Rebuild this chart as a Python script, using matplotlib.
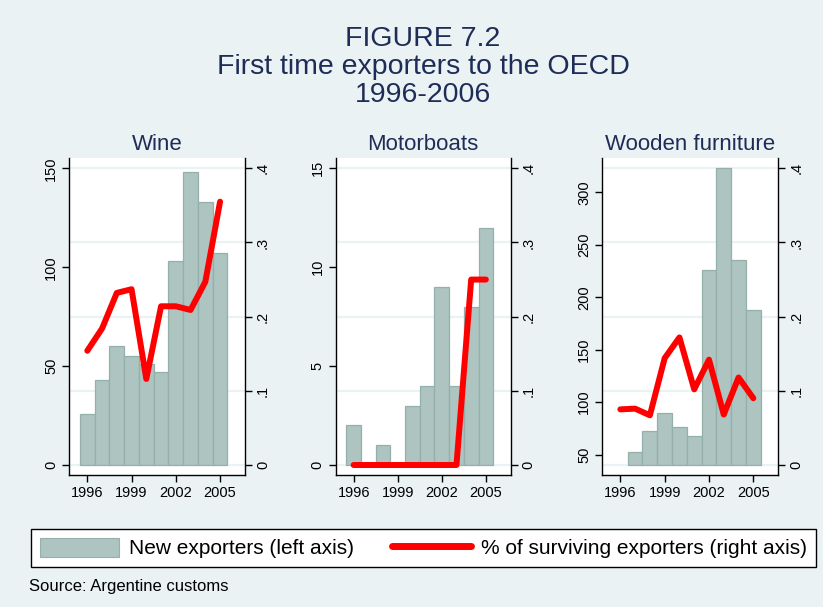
import numpy as np
import matplotlib
matplotlib.use("Agg")
import matplotlib.pyplot as plt
from matplotlib.patches import Patch
from matplotlib.lines import Line2D

plt.rcParams['font.family'] = ['Liberation Sans', 'DejaVu Sans']

# data
years = [1996, 1997, 1998, 1999, 2000, 2001, 2002, 2003, 2004, 2005]
panels = ['Wine', 'Motorboats', 'Wooden furniture']

wine_new = [26, 43, 60, 55, 51, 47, 103, 148, 133, 107]
wine_surv = [0.154, 0.184, 0.232, 0.237, 0.116, 0.214, 0.214, 0.209, 0.247, 0.355]

boats_new = [2, 0, 1, 0, 3, 4, 9, 4, 8, 12]
boats_surv = [0, 0, 0, 0, 0, 0, 0, 0, 0.25, 0.25]

furn_new = [40, 52.5, 72.5, 90, 76.5, 68, 226, 323, 236, 188]
furn_surv = [0.075, 0.076, 0.067, 0.144, 0.172, 0.102, 0.142, 0.068, 0.118, 0.090]

left_ticks = [[0, 50, 100, 150], [0, 5, 10, 15], [50, 100, 150, 200, 250, 300]]
left_range = [(0, 150), (0, 15), (40, 323)]
right_ticks = [0, 0.1, 0.2, 0.3, 0.4]
right_labels = ['0', '.1', '.2', '.3', '.4']
x_ticks = [1996, 1999, 2002, 2005]

new_vals = [wine_new, boats_new, furn_new]
surv_vals = [wine_surv, boats_surv, furn_surv]

BG = '#EAF2F3'
BAR = '#ADC4C0'
BAR_EDGE = '#95B0AA'
NAVY = '#1E2D58'
RED = '#FF0000'

W, H = 823, 607
fig = plt.figure(figsize=(W / 100, H / 100), dpi=100, facecolor=BG)

# axes positions in pixels (left, right), shared top/bottom
ax_lr = [(69.3, 245.0), (335.7, 510.7), (602.3, 778.3)]
top_px, bot_px = 158.3, 475.0
pad = 0.0337  # margin inside plot region

for i, name in enumerate(panels):
    l, r = ax_lr[i]
    pos = [l / W, 1 - bot_px / H, (r - l) / W, (bot_px - top_px) / H]

    # grid layer (behind the bars)
    gax = fig.add_axes(pos, zorder=0)
    gax.set_facecolor('white')
    gax.set_ylim(-0.4 * pad, 0.4 * (1 + pad))
    gax.set_yticks(right_ticks)
    gax.grid(axis='y', color=BG, lw=1.6)
    gax.tick_params(left=False, bottom=False, labelleft=False, labelbottom=False)
    for s in gax.spines.values():
        s.set_visible(False)

    # bars, left axis
    ax = fig.add_axes(pos, zorder=1)
    ax.patch.set_visible(False)
    lo, hi = left_range[i]
    span = hi - lo
    vals = np.array(new_vals[i], dtype=float)
    yrs = np.array(years)
    keep = vals > lo
    ax.bar(yrs[keep], vals[keep] - lo, bottom=lo, width=1.0,
           color=BAR, edgecolor=BAR_EDGE, linewidth=0.9)
    ax.set_ylim(lo - pad * span, hi + pad * span)
    ax.set_xlim(1994.78, 2006.69)
    ax.set_yticks(left_ticks[i])
    ax.set_xticks(x_ticks)
    ax.tick_params(axis='both', direction='out', length=5, width=1,
                   labelsize=10.5, colors='black', pad=3)
    plt.setp(ax.get_yticklabels(), rotation=90, va='center')
    ax.spines['top'].set_visible(False)
    ax.spines['right'].set_visible(False)
    for s in ['left', 'bottom']:
        ax.spines[s].set_linewidth(1)
    ax.set_title(name, fontsize=16, color=NAVY, pad=6)

    # share of surviving exporters, right axis
    ax2 = ax.twinx()
    ax2.set_zorder(2)
    ax2.patch.set_visible(False)
    ax2.plot(years, surv_vals[i], color=RED, lw=4.3,
             solid_capstyle='round', solid_joinstyle='round')
    ax2.set_ylim(-0.4 * pad, 0.4 * (1 + pad))
    ax2.set_yticks(right_ticks)
    ax2.set_yticklabels(right_labels)
    ax2.tick_params(axis='y', direction='out', length=5, width=1,
                    labelsize=10.5, colors='black', pad=3)
    plt.setp(ax2.get_yticklabels(), rotation=90, va='center')
    ax2.spines['top'].set_visible(False)
    ax2.spines['left'].set_visible(False)
    ax2.spines['bottom'].set_visible(False)
    ax2.spines['right'].set_linewidth(1)

# titles
fig.text(0.514, 1 - 38.5 / H, 'FIGURE 7.2', ha='center', va='center',
         fontsize=20.5, color=NAVY)
fig.text(0.514, 1 - 67.0 / H, 'First time exporters to the OECD', ha='center',
         va='center', fontsize=20.5, color=NAVY)
fig.text(0.514, 1 - 95.5 / H, '1996-2006', ha='center', va='center',
         fontsize=20.5, color=NAVY)

# legend
handles = [Patch(facecolor=BAR, edgecolor=BAR_EDGE, linewidth=0.8),
           Line2D([0], [0], color=RED, lw=5, solid_capstyle='round')]
labels = ['New exporters (left axis)', '% of surviving exporters (right axis)']
leg = fig.legend(handles, labels, ncol=2, loc='center',
                 bbox_to_anchor=(31 / W, 1 - 568 / H, 785 / W, 40 / H),
                 mode='expand', fontsize=15, handlelength=3.8,
                 handleheight=1.05, handletextpad=0.5, borderpad=0.42,
                 borderaxespad=0, fancybox=False, framealpha=1,
                 facecolor='white', edgecolor='black')
leg.get_frame().set_linewidth(1)

fig.text(29 / W, 1 - 586 / H, 'Source: Argentine customs', ha='left',
         va='center', fontsize=12, color='black')

fig.savefig('out.png', dpi=100, facecolor=BG)
